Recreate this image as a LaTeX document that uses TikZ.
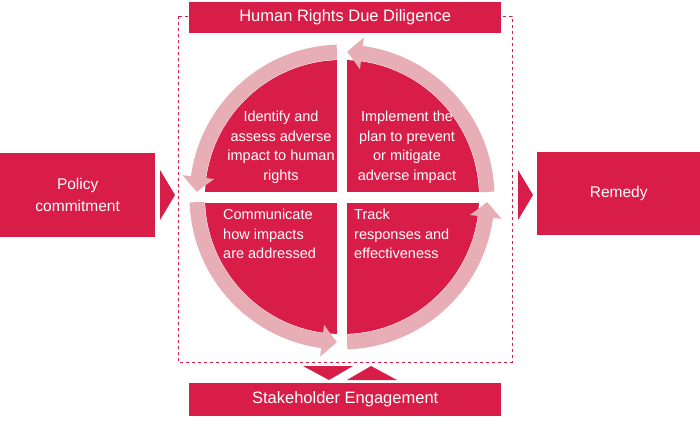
\documentclass[tikz,border=0pt]{standalone}
\usepackage{fontspec}
\setmainfont{Liberation Sans}
\usetikzlibrary{arrows.meta,bending}
\definecolor{hred}{HTML}{D81E48}
\definecolor{hpink}{HTML}{E8AEB5}
\begin{document}
\begin{tikzpicture}[x=1pt,y=-1pt,
  box/.style={fill=hred,text=white,inner sep=0pt,anchor=north west},
  qtext/.style={text=white,font=\fontsize{14.5}{19.5}\selectfont,inner sep=0pt},
  ring/.style={hpink,line width=15pt,-{Triangle[width=31pt,length=15pt,bend]}},
  tri/.style={fill=hred,draw=none}]
\useasboundingbox (0,0) rectangle (700,423);
\coordinate (c) at (342,197);
% dashed frame
\draw[hred,dashed,line width=0.8pt] (178,16) rectangle (512,362);
% boxes
\node[box,minimum width=312pt,minimum height=31pt,font=\fontsize{16.5}{18}\selectfont] (hrdd) at (189,2) {Human Rights Due Diligence};
\node[box,minimum width=312pt,minimum height=33pt,font=\fontsize{16.5}{18}\selectfont] (se) at (189,383) {Stakeholder Engagement};
\node[box,minimum width=155pt,minimum height=84pt,align=center,font=\fontsize{15.5}{22}\selectfont] (pc) at (0,153) {Policy\\commitment};
\node[box,minimum width=163pt,minimum height=83pt,font=\fontsize{15.5}{18}\selectfont] (rem) at (537,152) {Remedy};
% triangles
\fill[tri] (160,170) -- (175,195) -- (160,220) -- cycle;
\fill[tri] (518,170) -- (533,195) -- (518,220) -- cycle;
\fill[tri] (303,366) -- (353,366) -- (329,380) -- cycle;
\fill[tri] (347,380) -- (397,380) -- (371,366) -- cycle;
% disc quadrants
\begin{scope}
\clip (c) circle (137);
\fill[hred] (100,0) rectangle (337,192);
\fill[hred] (347,0) rectangle (600,192);
\fill[hred] (100,203) rectangle (337,400);
\fill[hred] (347,203) rectangle (600,400);
\end{scope}
% ring arrows
\draw[ring] ([shift={(c)}]178:145) arc (178:92:145);
\draw[ring] ([shift={(c)}]88:145) arc (88:2:145);
\draw[ring] ([shift={(c)}]-2:145) arc (-2:-88:145);
\draw[ring] ([shift={(c)}]-92:145) arc (-92:-178:145);
% texts
\node[qtext,align=center] (q1) at (281,147) {Identify and\\assess adverse\\impact to human\\rights};
\node[qtext,align=center] (q2) at (407,147) {Implement the\\plan to prevent\\or mitigate\\adverse impact};
\node[qtext,align=left,anchor=north west] (q3) at (223,209) {Communicate\\how impacts\\are addressed};
\node[qtext,align=left,anchor=north west] (q4) at (354,209) {Track\\responses and\\effectiveness};
\end{tikzpicture}
\end{document}
